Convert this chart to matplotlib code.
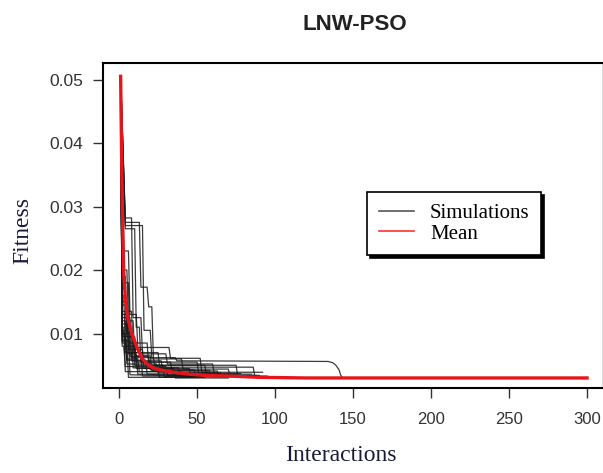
import matplotlib
matplotlib.use('Agg')
import matplotlib.pyplot as plt
from matplotlib.lines import Line2D

# ---- data (iteration, fitness) ----
title = 'LNW-PSO'
x_label = 'Interactions'
y_label = 'Fitness'
x_ticks = [0, 50, 100, 150, 200, 250, 300]
y_ticks = [0.01, 0.02, 0.03, 0.04, 0.05]

run01 = [(1, .0505), (4, .0282), (8, .0282), (9, .0125), (14, .0125), (15, .0068), (30, .0068), (31, .0052), (60, .0052), (61, .0036), (85, .0036)]
run02 = [(1, .0505), (4, .0275), (13, .0275), (14, .0173), (18, .0173), (19, .0142), (21, .0142), (22, .0062), (36, .0062), (37, .0057),
         (134, .0056), (137, .0054), (139, .0050), (141, .0043), (142, .0035), (143, .0031)]
run03 = [(1, .0505), (4, .0270), (15, .0270), (16, .0105), (20, .0105), (21, .0060), (40, .0060), (41, .0044), (70, .0044), (71, .0034), (90, .0034)]
run04 = [(1, .0505), (4, .0265), (10, .0265), (11, .0110), (13, .0110), (14, .0055), (50, .0055), (51, .0037), (78, .0037)]
run05 = [(1, .0505), (2, .0150), (5, .0150), (6, .0075), (15, .0075), (16, .0045), (45, .0045), (46, .0033), (60, .0033)]
run06 = [(1, .0505), (2, .0120), (4, .0120), (5, .0060), (12, .0060), (13, .0040), (40, .0040), (41, .0031), (55, .0031)]
run07 = [(1, .0505), (2, .0100), (6, .0100), (7, .0035), (50, .0033)]
run08 = [(1, .0505), (2, .0090), (5, .0090), (6, .0031), (48, .0031)]
run09 = [(1, .0505), (3, .0180), (6, .0180), (7, .0085), (18, .0085), (19, .0050), (55, .0050), (56, .0035), (75, .0035)]
run10 = [(1, .0505), (2, .0135), (8, .0135), (9, .0070), (25, .0070), (26, .0047), (86, .0047), (87, .0033), (95, .0033)]
run11 = [(1, .0505), (2, .0160), (3, .0160), (4, .0080), (10, .0080), (11, .0055), (33, .0055), (34, .0038), (65, .0038)]
run12 = [(1, .0505), (2, .0095), (9, .0095), (10, .0050), (28, .0050), (29, .0032), (52, .0032)]
run13 = [(1, .0505), (3, .0200), (5, .0200), (6, .0120), (9, .0120), (10, .0065), (20, .0065), (21, .0042), (58, .0042), (59, .0032), (80, .0032)]
run14 = [(1, .0505), (2, .0110), (3, .0110), (4, .0040), (25, .0040), (26, .0031), (45, .0031)]
run15 = [(1, .0505), (2, .0085), (4, .0085), (5, .0058), (17, .0058), (18, .0036), (40, .0036)]
run16 = [(1, .0505), (3, .0230), (6, .0230), (7, .0130), (11, .0130), (12, .0078), (32, .0078), (33, .0061), (52, .0061), (53, .0039), (92, .0039)]
run17 = [(1, .0505), (2, .0125), (7, .0125), (8, .0062), (22, .0062), (23, .0050), (75, .0050), (76, .0034), (88, .0034)]
run18 = [(1, .0505), (2, .0105), (3, .0105), (4, .0070), (14, .0070), (15, .0033), (62, .0033)]
run19 = [(1, .0505), (2, .0145), (4, .0145), (5, .0095), (10, .0095), (11, .0045), (35, .0045), (36, .0030), (70, .0030)]
run20 = [(1, .0505), (2, .0080), (3, .0080), (4, .0048), (30, .0048), (31, .0034), (50, .0034)]
run21 = [(1, .0505), (2, .0115), (6, .0115), (7, .0064), (19, .0064), (20, .0043), (48, .0043), (49, .0035), (66, .0035)]
run22 = [(1, .0505), (2, .0098), (4, .0098), (5, .0052), (24, .0052), (25, .0039), (57, .0039), (58, .0032), (74, .0032)]
run23 = [(1, .0505), (2, .0130), (5, .0130), (6, .0068), (11, .0068), (12, .0036), (42, .0036)]
run24 = [(1, .0505), (2, .0088), (7, .0088), (8, .0057), (27, .0057), (28, .0041), (63, .0041), (64, .0033), (82, .0033)]
run25 = [(1, .0505), (3, .0190), (4, .0190), (5, .0102), (8, .0102), (9, .0046), (38, .0046), (39, .0032), (58, .0032)]

mean_iter = [1, 2, 3, 4, 5, 6, 8, 10, 12, 15, 18, 21, 24, 30, 35, 45, 55, 70, 90, 120, 300]
mean_fit = [.0505, .0310, .0195, .0155, .0135, .0120, .0102, .0088, .0075, .0060, .0052, .0047, .0044, .0041, .0039, .0036, .0034, .0033, .0031, .0030, .0030]

runs = [run01, run02, run03, run04, run05, run06, run07, run08, run09, run10,
        run11, run12, run13, run14, run15, run16, run17, run18, run19, run20,
        run21, run22, run23, run24, run25]

fig = plt.figure(figsize=(6.03, 4.73), dpi=100)
ax = fig.add_axes([103/603., 85/473., 499/603., 325/473.])

for r in runs:
    xs = [p[0] for p in r]
    ys = [p[1] for p in r]
    ax.plot(xs, ys, color='#1a1a1a', lw=0.9, alpha=0.85)

ax.plot(mean_iter, mean_fit, color='#e8141c', lw=2.4)

ax.set_xlim(-10.3, 309.6)
ax.set_ylim(0.00142, 0.0526)
ax.set_xticks(x_ticks)
ax.set_yticks(y_ticks)
ax.set_xticklabels([str(t) for t in x_ticks])
ax.set_yticklabels(['%.2f' % t for t in y_ticks])

for s in ax.spines.values():
    s.set_linewidth(1.5)
    s.set_color('black')
ax.spines['right'].set_color('#dddddd')
ax.spines['right'].set_linewidth(0.8)
ax.tick_params(direction='out', length=7, width=1, color='#333333',
               labelsize=12, labelcolor='#333333', top=False, right=False)
ax.tick_params(axis='y', pad=7, labelsize=12.5)
ax.tick_params(axis='x', pad=10)
for lab in ax.get_xticklabels() + ax.get_yticklabels():
    lab.set_family('Liberation Sans')

ax.set_xlabel(x_label, family='Liberation Serif', fontsize=17, color='#1a1a3a')
ax.set_ylabel(y_label, family='Liberation Serif', fontsize=17, color='#1a1a3a')
ax.xaxis.set_label_coords((341 - 103) / 499., (388 - 455) / 325.)
ax.yaxis.set_label_coords((23 - 103) / 499., (388 - 231) / 325.)
ax.xaxis.label.set_va('center')
ax.yaxis.label.set_va('center')
fig.text(355/603., 1 - 24/473., title, ha='center', va='center',
         family='Liberation Sans', fontweight='bold', fontsize=16, color='#222222')

handles = [Line2D([], [], color='#555555', lw=1.2), Line2D([], [], color='#ff3030', lw=1.2)]
leg = ax.legend(handles, ['Simulations', 'Mean'], loc='upper left',
                bbox_to_anchor=(0.53, 0.603), borderaxespad=0, fancybox=False,
                shadow={'color': 'black', 'alpha': 1},
                prop={'family': 'Liberation Serif', 'size': 15},
                handlelength=1.7, handletextpad=0.75, labelspacing=0.05,
                borderpad=0.55, framealpha=1)
leg.get_frame().set_edgecolor('black')
leg.get_frame().set_linewidth(1.2)

fig.savefig('out.png', dpi=100)
